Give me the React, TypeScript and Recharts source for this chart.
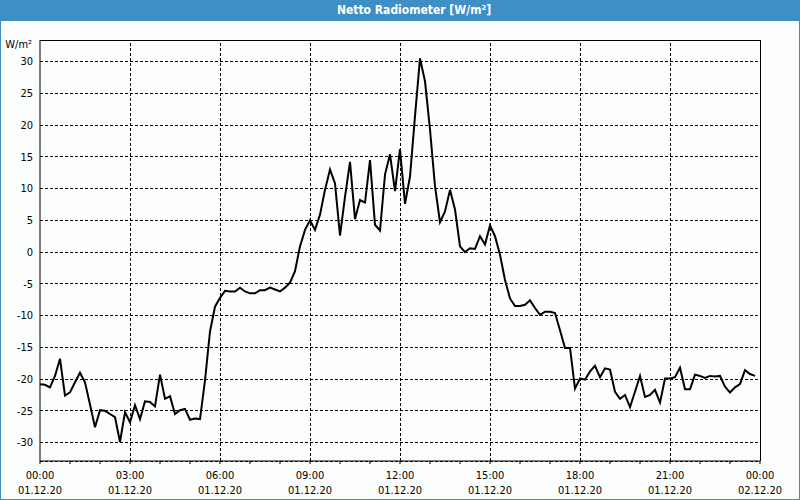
import React from "react";
import { LineChart, Line, XAxis, YAxis, CartesianGrid, ReferenceLine } from "recharts";

// net radiation, 10-minute samples starting 01.12.20 00:00
const stepMinutes = 10;
const netValues = [
  -20.8, -20.9, -21.3, -19.5, -16.8, -22.6, -22.1, -20.5, -19.0, -20.5, -24.0, -27.6,
  -24.9, -25.0, -25.5, -26.0, -29.9, -25.2, -26.8, -24.1, -26.3, -23.5, -23.6, -24.3,
  -19.3, -23.1, -22.7, -25.5, -24.9, -24.7, -26.4, -26.2, -26.3, -20.2, -12.5, -8.6,
  -7.2, -6.1, -6.2, -6.2, -5.6, -6.2, -6.5, -6.5, -6.0, -6.0, -5.6, -5.9,
  -6.2, -5.6, -4.8, -3.0, 0.9, 3.5, 5.0, 3.5, 5.9, 9.8, 13.0, 10.8,
  2.6, 8.7, 14.2, 5.2, 8.2, 7.8, 14.5, 4.3, 3.4, 12.2, 15.4, 9.6,
  16.2, 7.6, 11.9, 21.4, 30.5, 26.9, 19.3, 10.4, 4.7, 6.4, 9.8, 6.7,
  0.9, 0.0, 0.6, 0.5, 2.5, 1.2, 4.2, 2.5, -0.4, -4.4, -7.3, -8.5,
  -8.5, -8.3, -7.6, -8.8, -9.9, -9.4, -9.4, -9.6, -12.3, -15.1, -15.1, -21.5,
  -19.9, -20.1, -18.8, -17.9, -19.7, -18.3, -18.5, -22.0, -23.1, -22.5, -24.4, -22.0,
  -19.5, -22.8, -22.5, -21.7, -23.7, -19.9, -19.9, -19.7, -18.2, -21.6, -21.6, -19.3,
  -19.5, -19.8, -19.5, -19.6, -19.5, -21.2, -22.1, -21.3, -20.8, -18.6, -19.2, -19.5,
];

const hourTicks = [
  0, 60, 120, 180, 240, 300, 360, 420, 480, 540, 600, 660, 720,
  780, 840, 900, 960, 1020, 1080, 1140, 1200, 1260, 1320, 1380, 1440,
];
const majorTicks = [0, 180, 360, 540, 720, 900, 1080, 1260, 1440];
const timeLabels = ["00:00", "03:00", "06:00", "09:00", "12:00", "15:00", "18:00", "21:00", "00:00"];
const dateLabels = [
  "01.12.20", "01.12.20", "01.12.20", "01.12.20", "01.12.20",
  "01.12.20", "01.12.20", "01.12.20", "02.12.20",
];
const yTicks = [-30, -25, -20, -15, -10, -5, 0, 5, 10, 15, 20, 25, 30];
const yMin = -32.9;
const yMax = 33.4;

const data = netValues.map((v, i) => ({ minute: i * stepMinutes, value: v }));

const FONT = '"DejaVu Sans Condensed", "Liberation Sans", sans-serif';
const BLUE = "#3d8fc6";

const TimeTick = (props: any) => {
  const { x, y, payload } = props;
  const idx = majorTicks.indexOf(payload.value);
  if (idx < 0) return null;
  return (
    <g>
      <text x={x} y={y + 13} textAnchor="middle" fontSize={11} fontFamily={FONT} fill="#000">
        {timeLabels[idx]}
      </text>
      <text x={x} y={y + 28} textAnchor="middle" fontSize={11} fontFamily={FONT} fill="#000">
        {dateLabels[idx]}
      </text>
    </g>
  );
};

export default function App() {
  return (
    <div style={{ position: "absolute", left: 0, top: 0, width: 800, height: 500, background: "#fcfefd" }}>
      <style>{`body{margin:0}
        .recharts-cartesian-grid line, .recharts-reference-line line { shape-rendering: crispEdges; }`}</style>
      <LineChart width={800} height={500} data={data} margin={{ top: 40, right: 40, bottom: 0, left: 0 }}>
        <CartesianGrid vertical={false} stroke="#000" strokeDasharray="3 2" />
        {majorTicks.slice(1, -1).map((m) => (
          <ReferenceLine key={m} x={m} stroke="#000" strokeDasharray="3 2" />
        ))}
        <ReferenceLine y={yMax} stroke="#000" />
        <ReferenceLine x={1440} stroke="#000" />
        <XAxis
          dataKey="minute"
          type="number"
          domain={[0, 1440]}
          ticks={hourTicks}
          interval={0}
          height={39}
          tickSize={3}
          tickMargin={2}
          stroke="#000"
          tick={<TimeTick />}
        />
        <YAxis
          type="number"
          domain={[yMin, yMax]}
          ticks={yTicks}
          interval={0}
          width={40}
          tickLine={false}
          tickSize={4}
          tickMargin={3}
          stroke="#000"
          tick={{ fill: "#000", fontSize: 11, fontFamily: FONT }}
        />
        <Line
          type="linear"
          dataKey="value"
          stroke="#000"
          strokeWidth={2}
          dot={false}
          isAnimationActive={false}
        />
      </LineChart>
      <div
        style={{
          position: "absolute",
          left: 0,
          top: 0,
          width: 800,
          height: 21,
          background: BLUE,
          color: "#fff",
          fontFamily: FONT,
          fontWeight: "bold",
          fontSize: 12,
          lineHeight: "21px",
          textAlign: "center",
          paddingLeft: 28,
          boxSizing: "border-box",
        }}
      >
        Netto Radiometer [W/m²]
      </div>
      <div
        style={{
          position: "absolute",
          left: 0,
          top: 0,
          width: 800,
          height: 500,
          border: `1px solid ${BLUE}`,
          boxSizing: "border-box",
          pointerEvents: "none",
        }}
      />
      <div
        style={{
          position: "absolute",
          right: 768,
          top: 38,
          fontFamily: FONT,
          fontSize: 11,
          color: "#000",
          whiteSpace: "nowrap",
        }}
      >
        W/m²
      </div>
    </div>
  );
}
